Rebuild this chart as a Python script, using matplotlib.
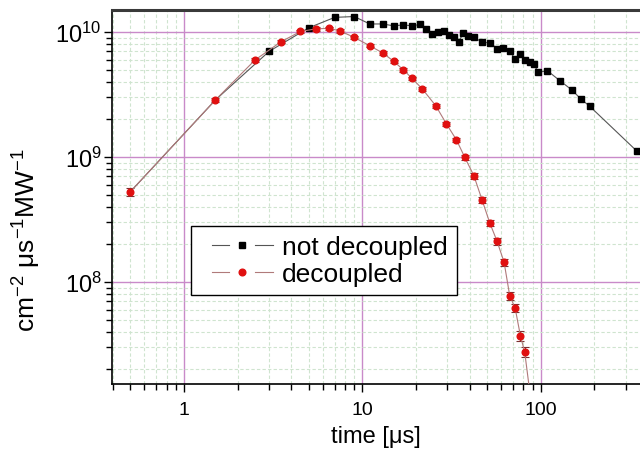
import matplotlib
matplotlib.use('Agg')
import matplotlib.pyplot as plt
from matplotlib.lines import Line2D
from matplotlib.legend_handler import HandlerBase
from matplotlib.ticker import LogLocator, NullFormatter, FixedLocator, FixedFormatter

plt.rcParams['font.family'] = ['Liberation Sans', 'DejaVu Sans']
plt.rcParams['mathtext.fontset'] = 'custom'
plt.rcParams['mathtext.rm'] = 'Liberation Sans'
plt.rcParams['mathtext.it'] = 'Liberation Sans'

# Data

# not decoupled (black squares); first two points lie under the red curve
t_nd = [0.5, 1.5, 3, 5, 7, 9, 11, 13, 15, 17, 19, 21, 22.7, 24.7, 26.6, 28.7,
        30.6, 32.7, 34.7, 36.7, 39.2, 42.2, 47.1, 52.2, 57.2, 61.5, 67, 71.5,
        76.9, 82, 86.7, 91.7, 96.6, 109, 128, 149, 168, 188, 347]
y_nd = [5.27e8, 2.86e9, 7.0e9, 1.08e10, 1.31e10, 1.33e10, 1.16e10, 1.16e10,
        1.12e10, 1.14e10, 1.12e10, 1.15e10, 1.06e10, 9.7e9, 1.0e10, 1.01e10,
        9.47e9, 9.12e9, 8.36e9, 9.77e9, 9.25e9, 9.07e9, 8.27e9, 8.17e9, 7.31e9,
        7.45e9, 7.08e9, 6.08e9, 6.67e9, 6.01e9, 5.73e9, 5.52e9, 4.76e9, 4.9e9,
        4.08e9, 3.45e9, 2.91e9, 2.55e9, 1.11e9]

# decoupled (red circles) with relative errors
t_d = [0.5, 1.5, 2.5, 3.5, 4.5, 5.5, 6.5, 7.5, 9, 11, 13, 15, 17, 19, 21.7,
       25.8, 29.6, 33.7, 37.5, 42.2, 46.9, 51.8, 56.9, 62.3, 67, 71.8, 76.9,
       81.3, 89]
y_d = [5.27e8, 2.86e9, 5.97e9, 8.36e9, 1.01e10, 1.06e10, 1.07e10, 1.02e10,
       9.06e9, 7.77e9, 6.8e9, 5.83e9, 4.97e9, 4.26e9, 3.5e9, 2.57e9, 1.84e9,
       1.37e9, 9.95e8, 7.08e8, 4.53e8, 2.97e8, 2.12e8, 1.44e8, 7.77e7, 6.22e7,
       3.72e7, 2.75e7, 1.0e7]
rel_err_d = [0.08, 0.04, 0.03, 0.03, 0.03, 0.03, 0.03, 0.03, 0.03, 0.03, 0.03,
             0.03, 0.03, 0.03, 0.03, 0.04, 0.04, 0.04, 0.05, 0.05, 0.05, 0.06,
             0.06, 0.07, 0.08, 0.08, 0.09, 0.09, 0.1]
err_d = [v * e for v, e in zip(y_d, rel_err_d)]


class GapLineHandler(HandlerBase):
    # Origin-style legend symbol:  —  marker  —
    def create_artists(self, legend, orig_handle, xdescent, ydescent,
                       width, height, fontsize, trans):
        x0 = -xdescent
        y = height / 2 - ydescent
        c = orig_handle.get_color()
        lw = orig_handle.get_linewidth()
        left = Line2D([x0 + 0.16 * width, x0 + 0.39 * width], [y, y], color=c, linewidth=lw)
        right = Line2D([x0 + 0.76 * width, x0 + width], [y, y], color=c, linewidth=lw)
        mk = Line2D([x0 + 0.58 * width], [y], linestyle='none',
                    marker=orig_handle.get_marker(),
                    markersize=orig_handle.get_markersize(),
                    markerfacecolor=orig_handle.get_markerfacecolor(),
                    markeredgecolor=orig_handle.get_markeredgecolor())
        for a in (left, right, mk):
            a.set_transform(trans)
        return [left, right, mk]


fig = plt.figure(figsize=(6.4, 4.52), dpi=100)
ax = fig.add_axes([112 / 640, 1 - 385 / 452, 1 - 112 / 640, (385 - 11) / 452])
ax.set_xscale('log')
ax.set_yscale('log')
ax.set_xlim(0.395, 360)
ax.set_ylim(1.53e7, 1.5e10)

# grid
ax.grid(True, which='minor', color='#cfe4cf', linestyle=(0, (3, 2)), linewidth=0.8)
ax.grid(True, which='major', color='#c98ac9', linestyle='-', linewidth=1.0)
ax.set_axisbelow(True)

l_nd, = ax.plot(t_nd, y_nd, color='#555555', linewidth=0.8, marker='s', markersize=4,
                markerfacecolor='black', markeredgecolor='black',
                markevery=slice(2, None), zorder=3)
eb = ax.errorbar(t_d, y_d, yerr=err_d, color='#b07a7a', linewidth=0.8, marker='o',
                 markersize=4.8, markerfacecolor='#e01010', markeredgecolor='#e01010',
                 ecolor='#7a3030', elinewidth=0.8, capsize=3, capthick=0.8, zorder=4)

# ticks
ax.xaxis.set_major_locator(FixedLocator([1, 10, 100]))
ax.xaxis.set_major_formatter(FixedFormatter(['1', '10', '100']))
ax.xaxis.set_minor_locator(LogLocator(base=10, subs=range(2, 10)))
ax.xaxis.set_minor_formatter(NullFormatter())
ax.yaxis.set_major_locator(FixedLocator([1e8, 1e9, 1e10]))
ax.yaxis.set_major_formatter(FixedFormatter([r'$10^{8}$', r'$10^{9}$', r'$10^{10}$']))
ax.yaxis.set_minor_locator(LogLocator(base=10, subs=range(2, 10)))
ax.yaxis.set_minor_formatter(NullFormatter())
ax.tick_params(which='major', direction='out', length=6, width=1, labelsize=14, pad=6)
ax.tick_params(which='minor', direction='out', length=4, width=1)
ax.tick_params(axis='y', labelsize=17, pad=1.5)

for s in ['left', 'bottom']:
    ax.spines[s].set_linewidth(1.2)
ax.spines['top'].set_linewidth(2.2)
ax.spines['top'].set_color('#3a3a3a')
ax.spines['right'].set_visible(False)

ax.set_xlabel('time [μs]', fontsize=17, labelpad=5)
ax.set_ylabel(r'cm$^{-2}$ μs$^{-1}$MW$^{-1}$', fontsize=19)
ax.yaxis.set_label_coords(-0.13, 0.388)

leg = ax.legend([l_nd, eb.lines[0]], ['not decoupled', 'decoupled'],
                handler_map={Line2D: GapLineHandler()},
                loc='upper left', bbox_to_anchor=(79 / 528, (385 - 227) / 374),
                borderaxespad=0, fontsize=19, frameon=True, fancybox=False,
                edgecolor='black', framealpha=1, handlelength=2.75,
                handletextpad=0.35, labelspacing=0.1, borderpad=0.35)
leg.get_frame().set_linewidth(1.0)
leg.set_zorder(10)

fig.savefig('out.png', dpi=100)
